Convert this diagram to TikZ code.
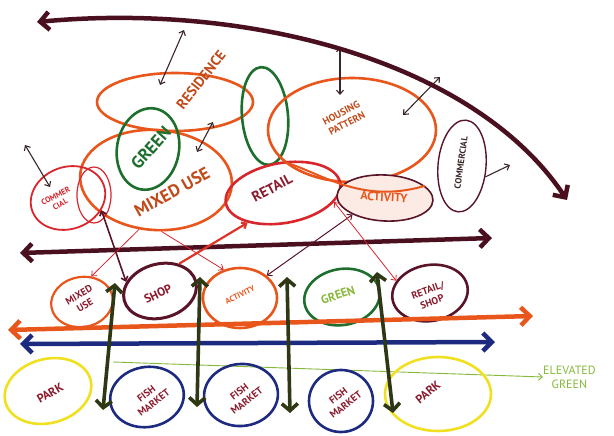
\documentclass[tikz,border=0pt]{standalone}
\usepackage{fontspec}
\setmainfont{PT Sans}
\usetikzlibrary{arrows.meta,shapes.geometric}
\definecolor{skmaroon}{HTML}{4A1020}
\definecolor{skorange}{HTML}{E8561C}
\definecolor{skred}{HTML}{D8262C}
\definecolor{skgreen}{HTML}{1E6E2E}
\definecolor{sklime}{HTML}{86B83A}
\definecolor{sknavy}{HTML}{1C2A80}
\definecolor{skyellow}{HTML}{F0E020}
\definecolor{skolive}{HTML}{2E3814}
\definecolor{skink}{HTML}{8A1A2C}
\definecolor{skrust}{HTML}{C04A1A}
\definecolor{skplum}{HTML}{5A1428}
\definecolor{skdark}{HTML}{3A2628}

\begin{document}
\begin{tikzpicture}[x=1pt, y=-1pt,
        font=\bfseries,
        oval/.style={ellipse, draw=#1, line width=2.6pt, inner sep=0pt},
        lbl/.style={text=skink, align=center, inner sep=0pt, font=\large\bfseries},
        barb/.style={-{Straight Barb[length=4pt, width=7pt]}},
        dbarb/.style={{Straight Barb[length=4pt, width=7pt]}-{Straight Barb[length=4pt, width=7pt]}},
        bigarr/.style={line width=4.5pt, line cap=round,
                       {Straight Barb[length=9pt, width=18pt]}-{Straight Barb[length=9pt, width=18pt]}},
        tiny/.style={dbarb, skdark, line width=1.1pt},
        thin/.style={skred, line width=0.8pt},
        vert/.style={line width=3.6pt, skolive,
                     {Straight Barb[length=7pt, width=16pt]}-{Straight Barb[length=7pt, width=16pt]}}
    ]
        \useasboundingbox (0,0) rectangle (614,436);

        % upper cluster
        \node[oval=skorange, minimum width=156pt, minimum height=58pt] (res) at (175,102) {};
        \node[oval=skorange, minimum width=152pt, minimum height=100pt, rotate=-4] (mix) at (156,180) {};
        \node[oval=skgreen, minimum width=62pt, minimum height=82pt, rotate=-10] (grn1) at (148,149) {};
        \node[oval=skgreen, minimum width=46pt, minimum height=98pt, rotate=5] (grn2) at (265,116) {};
        \node[oval=skorange, minimum width=168pt, minimum height=104pt] (hous) at (352,130) {};
        \node[oval=skred, minimum width=116pt, minimum height=60pt, rotate=10] (ret1) at (283,193) {};
        \node[ellipse, draw=skplum, line width=1.6pt, fill=skorange!12,
              minimum width=96pt, minimum height=46pt, rotate=-3] (act1) at (385,198) {};
        \node[oval=skplum, line width=1.4pt, minimum width=48pt, minimum height=92pt, rotate=-5] (comm) at (462,166) {};
        \node[oval=skred, line width=1.8pt, minimum width=76pt, minimum height=62pt, rotate=20] (cmc) at (68,198) {};
        \node[oval=skred, line width=1.2pt, minimum width=34pt, minimum height=56pt] (cmc2) at (94,195) {};

        \node[lbl, text=skrust, font=\Large\bfseries, rotate=52] (res-t) at (201,80) {RESIDENCE};
        \node[lbl, text=skgreen, font=\LARGE\bfseries, rotate=48] (grn1-t) at (151,148) {GREEN};
        \node[lbl, text=skrust, font=\LARGE\bfseries, rotate=29] (mix-t) at (172,192) {MIXED USE};
        \node[lbl, text=skrust, font=\normalsize\bfseries, rotate=28] (hous-t) at (344,118) {HOUSING\\PATTERN};
        \node[lbl, font=\Large\bfseries, rotate=28] (ret1-t) at (272,188) {RETAIL};
        \node[lbl, text=skorange, font=\large\bfseries, rotate=-3] (act1-t) at (384,197) {ACTIVITY};
        \node[lbl, text=skdark, font=\small\bfseries, rotate=82] (comm-t) at (461,163) {COMMERCIAL};
        \node[lbl, text=skred, font=\footnotesize\bfseries, rotate=28] (cmc-t) at (58,200) {COMMER\\CIAL};

        \draw[thin, skorange, line width=2pt] (hous.205) .. controls (320,172) and (360,205) .. (act1.20);

        % small arrows round the cluster
        \coordinate (p1) at (160,85);  \coordinate (p2) at (184,30);
        \coordinate (p3) at (197,152); \coordinate (p4) at (213,122);
        \coordinate (p5) at (340,47);  \coordinate (p6) at (340,95);
        \coordinate (p7) at (403,115); \coordinate (p8) at (440,77);
        \coordinate (p9) at (25,145);  \coordinate (p10) at (50,187);
        \coordinate (p11) at (510,165);
        \draw[tiny] (p1) -- (p2);
        \draw[tiny] (p3) -- (p4);
        \draw[tiny] (p5) -- (p6);
        \draw[tiny] (p7) -- (p8);
        \draw[tiny] (p9) -- (p10);
        \draw[barb, skdark, line width=1.1pt] (comm.-20) -- (p11);

        % big sweeping arrow
        \coordinate (arcL) at (37,22);
        \coordinate (arcR) at (567,200);
        \draw[bigarr, skmaroon] (arcL) .. controls (250,2) and (475,62) .. (arcR);

        % middle band
        \coordinate (midL) at (20,253);  \coordinate (midR) at (492,238);
        \draw[bigarr, skmaroon] (midL) -- (midR);

        % lower row
        \node[oval=skorange, line width=2.2pt, minimum width=62pt, minimum height=50pt, rotate=10] (mx2) at (82,302) {};
        \node[oval=skplum, line width=3pt, minimum width=74pt, minimum height=54pt, rotate=15] (shop) at (160,291) {};
        \node[oval=skorange, minimum width=74pt, minimum height=60pt] (act2) at (240,298) {};
        \node[oval=skgreen, minimum width=76pt, minimum height=56pt, rotate=10] (grn3) at (342,297) {};
        \node[oval=skplum, minimum width=76pt, minimum height=56pt, rotate=10] (rs) at (430,293) {};

        \node[lbl, font=\normalsize\bfseries, rotate=30] (mx2-t) at (82,300) {MIXED\\USE};
        \node[lbl, rotate=25] (shop-t) at (158,294) {SHOP};
        \node[lbl, text=skorange, font=\footnotesize\bfseries, rotate=25] (act2-t) at (240,295) {ACTIVITY};
        \node[lbl, text=sklime, rotate=18] (grn3-t) at (338,295) {GREEN};
        \node[lbl, font=\normalsize\bfseries, rotate=20] (rs-t) at (430,296) {RETAIL/\\SHOP};

        % cross links
        \draw[thin, barb] (mix.-105) -- (mx2.60);
        \draw[thin, barb] (mix.-80) -- (act2.120);
        \draw[skplum, line width=1.6pt, dbarb] (shop.150) -- (cmc.-40);
        \draw[skred!70!skorange, line width=2.2pt, barb] (shop.40) -- (ret1.-150);
        \draw[skplum, line width=1pt, dbarb] (act2.40) -- (act1.-150);
        \draw[thin, dbarb] (rs.150) -- (ret1.-20);

        % streets
        \coordinate (orL) at (8,330);  \coordinate (orR) at (533,316);
        \coordinate (blL) at (20,344); \coordinate (blR) at (495,342);
        \draw[bigarr, skorange] (orL) -- (orR);
        \draw[bigarr, sknavy] (blL) -- (blR);

        % elevated green
        \node[lbl, text=sklime, font=\large, anchor=west] (elev) at (543,377) {ELEVATED\\GREEN};
        \coordinate (elS) at (113,362);
        \draw[sklime, line width=0.9pt, barb] (elS) -- (elev.west);

        % bottom row
        \node[oval=skyellow, minimum width=88pt, minimum height=64pt, rotate=15] (park1) at (48,391) {};
        \node[oval=sknavy, minimum width=74pt, minimum height=60pt, rotate=10] (fm1) at (147,397) {};
        \node[oval=sknavy, minimum width=74pt, minimum height=62pt, rotate=5] (fm2) at (241,395) {};
        \node[oval=sknavy, minimum width=64pt, minimum height=62pt] (fm3) at (341,401) {};
        \node[oval=skyellow, minimum width=106pt, minimum height=74pt] (park2) at (438,394) {};

        \node[lbl, rotate=30] (park1-t) at (50,393) {PARK};
        \node[lbl, font=\normalsize\bfseries, rotate=38] (fm1-t) at (150,398) {FISH\\MARKET};
        \node[lbl, font=\normalsize\bfseries, rotate=38] (fm2-t) at (243,396) {FISH\\MARKET};
        \node[lbl, font=\normalsize\bfseries, rotate=38] (fm3-t) at (342,400) {FISH\\MARKET};
        \node[lbl, rotate=39] (park2-t) at (428,392) {PARK};

        % vertical links between rows
        \coordinate (v1t) at (115,283); \coordinate (v1b) at (103,410);
        \coordinate (v2t) at (200,277); \coordinate (v2b) at (197,407);
        \coordinate (v3t) at (287,277); \coordinate (v3b) at (290,413);
        \coordinate (v4t) at (377,272); \coordinate (v4b) at (393,413);
        \draw[vert] (v1t) -- (v1b);
        \draw[vert] (v2t) -- (v2b);
        \draw[vert] (v3t) -- (v3b);
        \draw[vert] (v4t) -- (v4b);
\end{tikzpicture}
\end{document}
